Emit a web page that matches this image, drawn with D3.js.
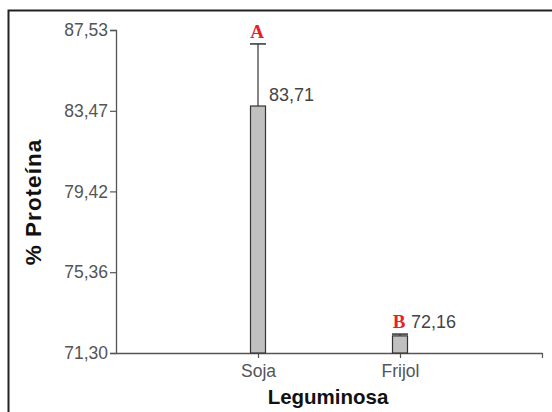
<!DOCTYPE html>
<html><head><meta charset="utf-8">
<script src="https://cdn.jsdelivr.net/npm/d3@7"></script>
<style>body{margin:0;background:#fff}svg{display:block}</style>
</head><body>
<script>
const categories = ["Soja", "Frijol"];
const means = [83.71, 72.16];
const errUpper = [86.83, 72.25];
const letters = ["A", "B"];
const valueLabels = ["83,71", "72,16"];
const yTicks = [71.30, 75.36, 79.42, 83.47, 87.53];
const yTickLabels = ["71,30", "75,36", "79,42", "83,47", "87,53"];

const W = 552, H = 412;
const svg = d3.select("body").append("svg").attr("width", W).attr("height", H);
const SANS = "Liberation Sans, Arial, sans-serif";

// frame (only top and left visible)
svg.append("rect").attr("x", 8.5).attr("y", 10.5).attr("width", 600).attr("height", 500)
  .attr("fill", "none").attr("stroke", "#222").attr("stroke-width", 2);

const x0 = 116, x1 = 542, yTop = 30, yBot = 353;
const y = d3.scaleLinear().domain([71.30, 87.53]).range([yBot, yTop]);
const x = d3.scalePoint().domain(["_l", ...categories, "_r"]).range([x0, x1]);

const gray = "#555";
// y axis
const yAxis = svg.append("g").attr("transform", `translate(${x0},0)`)
  .call(d3.axisLeft(y).tickValues(yTicks).tickFormat((d, i) => yTickLabels[i]).tickSize(6).tickPadding(2));
yAxis.select(".domain").attr("stroke", gray).attr("stroke-width", 1.3);
yAxis.selectAll(".tick line").attr("stroke", gray).attr("stroke-width", 1.2);
yAxis.selectAll("text").attr("font-family", SANS).attr("font-size", 17.5).attr("fill", gray);

// x axis
const xAxis = svg.append("g").attr("transform", `translate(0,${yBot})`)
  .call(d3.axisBottom(x).tickValues([...categories, "_r"]).tickFormat(d => d.startsWith("_") ? "" : d).tickSizeInner(5).tickSizeOuter(0).tickPadding(7));
xAxis.select(".domain").attr("stroke", gray).attr("stroke-width", 1.3);
xAxis.selectAll(".tick line").attr("stroke", gray).attr("stroke-width", 1.2);
xAxis.selectAll("text").attr("font-family", SANS).attr("font-size", 17.5).attr("fill", gray);

const bw = 15;
// error bars
categories.forEach((c, i) => {
  const cx = x(c);
  svg.append("line").attr("x1", cx).attr("x2", cx).attr("y1", y(means[i])).attr("y2", y(errUpper[i]))
    .attr("stroke", "#333").attr("stroke-width", 1.2);
  svg.append("line").attr("x1", cx - 8).attr("x2", cx + 8).attr("y1", y(errUpper[i])).attr("y2", y(errUpper[i]))
    .attr("stroke", "#333").attr("stroke-width", 1.5);
});
// bars
svg.selectAll("rect.bar").data(categories).enter().append("rect").attr("class", "bar")
  .attr("x", d => x(d) - bw / 2).attr("width", bw)
  .attr("y", (d, i) => y(means[i])).attr("height", (d, i) => yBot - y(means[i]))
  .attr("fill", "#c0c0c0").attr("stroke", "#333").attr("stroke-width", 1.2);

// value labels
svg.selectAll("text.val").data(categories).enter().append("text").attr("class", "val")
  .attr("x", d => x(d) + 11)
  .attr("y", (d, i) => i === 0 ? 101 : y(errUpper[i]) - 6)
  .attr("font-family", SANS).attr("font-size", 18).attr("fill", "#444")
  .text((d, i) => valueLabels[i]);

// letters
svg.selectAll("text.let").data(categories).enter().append("text").attr("class", "let")
  .attr("x", (d, i) => x(d) - 1)
  .attr("y", (d, i) => i === 0 ? 38 : y(errUpper[i]) - 6)
  .attr("text-anchor", "middle")
  .attr("font-family", "Liberation Serif, Times New Roman, serif").attr("font-weight", "bold")
  .attr("font-size", 19).attr("fill", "#e8202a")
  .text((d, i) => letters[i]);

// axis titles
svg.append("text").attr("x", 328).attr("y", 404).attr("text-anchor", "middle")
  .attr("font-family", SANS).attr("font-size", 20.5).attr("font-weight", "bold").attr("fill", "#111")
  .text("Leguminosa");
svg.append("text").attr("transform", "translate(41,202) rotate(-90)").attr("text-anchor", "middle")
  .attr("font-family", SANS).attr("font-size", 22.5).attr("font-weight", "bold").attr("letter-spacing", 1).attr("fill", "#111")
  .text("% Proteína");
</script>
</body></html>
